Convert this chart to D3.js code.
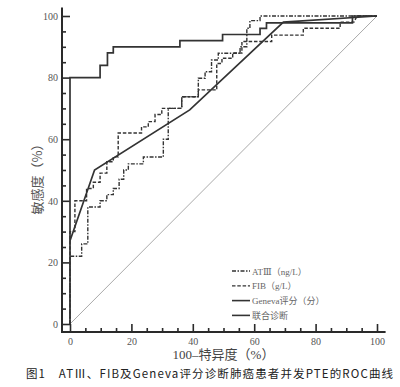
<!DOCTYPE html>
<html>
<head>
<meta charset="utf-8">
<script src="https://cdn.jsdelivr.net/npm/d3@7"></script>
<style>
  body { margin: 0; background: #fff; }
  svg { display: block; }
</style>
</head>
<body>
<svg id="chart" width="400" height="387"></svg>
<script>
// ROC points as [100 - specificity, sensitivity] in %
const atiiiPoints = [
  [0, 0], [0, 22], [3.8, 22], [3.8, 26], [5.8, 26], [5.8, 38], [9.8, 38], [9.8, 40],
  [12, 40], [12, 42], [14.1, 42], [14.1, 44], [16, 44], [16, 47], [17.5, 47], [17.5, 50],
  [19, 50], [19, 52], [23.9, 52], [23.9, 54.2], [30.4, 54.2], [30.4, 60], [32, 60], [32, 70],
  [36.4, 70], [36.4, 73.8], [41.8, 73.8], [41.8, 79.8], [44, 79.8], [44, 81.9], [46.1, 81.9],
  [46.1, 85.7], [48.3, 85.7], [48.3, 87.9], [55.4, 87.9], [55.4, 90], [57.6, 90], [57.6, 96],
  [58.6, 96], [58.6, 98.5], [61.9, 98.5], [61.9, 100], [100, 100]
]
const fibPoints = [
  [0, 0], [0, 30], [1.6, 30], [1.6, 40], [5.4, 40], [5.4, 44], [7.6, 44], [7.6, 46],
  [9.8, 46], [9.8, 49], [12, 49], [12, 52.7], [14.1, 52.7], [14.1, 54.3], [15.7, 54.3],
  [15.7, 62], [23.3, 62], [23.3, 64], [25.5, 64], [25.5, 65.7], [27.7, 65.7], [27.7, 68],
  [29.9, 68], [29.9, 70], [36.4, 70], [36.4, 73.8], [41.8, 73.8], [41.8, 76], [47.8, 76],
  [47.8, 84.6], [49.5, 84.6], [49.5, 86.3], [53, 86.3], [53, 88], [56, 88], [56, 91.7],
  [65.7, 91.7], [65.7, 93.8], [76, 93.8], [76, 96], [88, 96], [88, 98], [92.5, 98],
  [93.5, 100], [100, 100]
]
const genevaPoints = [[0, 27], [8, 50], [39, 69.5], [69.5, 98], [100, 100]]
const jointPoints = [
  [0, 0], [0, 80], [9.8, 80], [9.8, 84], [12.2, 84], [12.2, 88], [14.1, 88], [14.1, 90],
  [35.8, 90], [35.8, 92], [49.7, 92], [49.7, 94], [61.9, 94], [61.9, 96], [64, 96],
  [64, 97.8], [92, 97.8], [92, 100], [100, 100]
]
const refLine = [[0, 0], [100, 100]]

const seriesNames = ['ATⅢ（ng/L）', 'FIB（g/L）', 'Geneva评分（分）', '联合诊断']
const majorTicks = [0, 20, 40, 60, 80, 100]
const minorTicks = d3.range(0, 101, 5).filter(v => v % 20 !== 0)

const xLabel = '100–特异度（%）'
const yLabel = '敏感度（%）'
const caption = '图1　ATⅢ、FIB及Geneva评分诊断肺癌患者并发PTE的ROC曲线'

const svg = d3.select('#chart')
const x = d3.scaleLinear().domain([0, 100]).range([70, 377])
const y = d3.scaleLinear().domain([0, 100]).range([324, 16])

const axisColor = '#2a2a2a'
const serif = '"Liberation Serif", "DejaVu Serif", serif'
const cjk = '"Noto Sans CJK SC", sans-serif'

// axis lines (offset from the data origin)
svg.append('line')
  .attr('x1', 62).attr('x2', 62)
  .attr('y1', y(-2.6)).attr('y2', y(102.8))
  .attr('stroke', axisColor).attr('stroke-width', 2)
svg.append('line')
  .attr('x1', 61).attr('x2', x(102.8))
  .attr('y1', 332).attr('y2', 332)
  .attr('stroke', axisColor).attr('stroke-width', 2)

// y axis ticks
const yMajor = svg.append('g').attr('transform', 'translate(62,0)')
  .call(d3.axisLeft(y).tickValues(majorTicks).tickSize(-8).tickPadding(4))
const yMinor = svg.append('g').attr('transform', 'translate(62,0)')
  .call(d3.axisLeft(y).tickValues(minorTicks).tickSize(-4).tickFormat(''))

// x axis ticks
const xMajor = svg.append('g').attr('transform', 'translate(0,332)')
  .call(d3.axisBottom(x).tickValues(majorTicks).tickSize(-8).tickPadding(6))
const xMinor = svg.append('g').attr('transform', 'translate(0,332)')
  .call(d3.axisBottom(x).tickValues(minorTicks).tickSize(-4).tickFormat(''))

;[yMajor, yMinor, xMajor, xMinor].forEach(g => {
  g.select('.domain').remove()
  g.selectAll('line').attr('stroke', axisColor).attr('stroke-width', 1.6)
  g.selectAll('text')
    .attr('fill', '#555')
    .style('font-family', serif)
    .style('font-size', '10px')
})

// diagonal reference
const line = d3.line().x(d => x(d[0])).y(d => y(d[1]))
svg.append('path')
  .attr('d', line(refLine))
  .attr('fill', 'none').attr('stroke', '#aaa').attr('stroke-width', 1)

const curves = [
  { pts: atiiiPoints, dash: '4,1.5,1.5,1.5', width: 1.4 },
  { pts: fibPoints, dash: '3.5,1.8', width: 1.4 },
  { pts: genevaPoints, dash: null, width: 1.7 },
  { pts: jointPoints, dash: null, width: 1.7 }
]

curves.forEach(c => {
  svg.append('path')
    .attr('d', line(c.pts))
    .attr('fill', 'none')
    .attr('stroke', '#333')
    .attr('stroke-width', c.width)
    .attr('stroke-dasharray', c.dash)
})

// legend
const legend = svg.append('g')
seriesNames.forEach((name, i) => {
  const ly = 271 + i * 14.8
  legend.append('line')
    .attr('x1', 232).attr('x2', 250).attr('y1', ly).attr('y2', ly)
    .attr('stroke', '#333').attr('stroke-width', curves[i].dash ? 1.3 : 1.6)
    .attr('stroke-dasharray', curves[i].dash)
  legend.append('text')
    .attr('x', 252).attr('y', ly + 3.5)
    .attr('fill', '#666')
    .style('font-family', serif + ',' + cjk)
    .style('font-size', '9px')
    .text(name)
})

// axis titles
svg.append('text')
  .attr('x', x(50)).attr('y', 359)
  .attr('text-anchor', 'middle')
  .attr('fill', '#444')
  .style('font-family', serif + ',' + cjk)
  .style('font-size', '13px')
  .text(xLabel)

svg.append('text')
  .attr('transform', `translate(42,${y(50) + 6}) rotate(-90)`)
  .attr('text-anchor', 'middle')
  .attr('fill', '#555')
  .style('font-family', cjk)
  .style('font-size', '13px')
  .text(yLabel)

// caption
svg.append('text')
  .attr('x', 26).attr('y', 378)
  .attr('textLength', 367)
  .attr('lengthAdjust', 'spacing')
  .attr('fill', '#222')
  .style('font-family', cjk)
  .style('font-size', '11.5px')
  .text(caption)
</script>
</body>
</html>
